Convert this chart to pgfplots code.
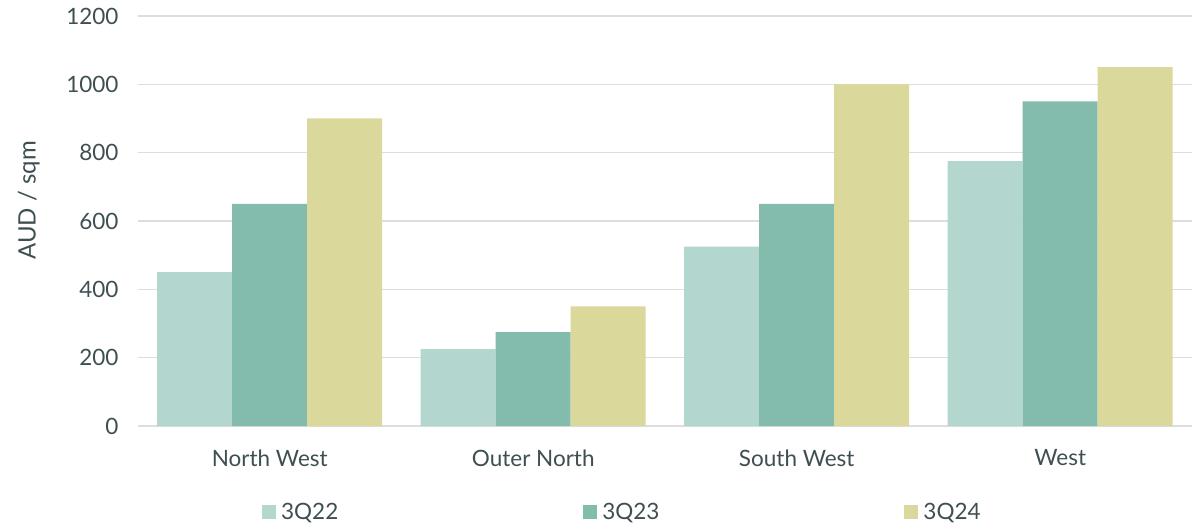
\documentclass[border=0pt]{standalone}
\usepackage{fontspec}
\setmainfont{Lato}
\usepackage{pgfplots}
\pgfplotsset{compat=1.18}
\definecolor{cA}{HTML}{B3D6CF}
\definecolor{cB}{HTML}{83BBAD}
\definecolor{cC}{HTML}{DBD89B}
\definecolor{txt}{HTML}{3F4F51}
\definecolor{grd}{HTML}{DDDDDD}
\begin{document}
\begin{tikzpicture}
\useasboundingbox (-138pt,-99pt) rectangle (1064pt,426pt);
\begin{axis}[
  at={(0,0)}, anchor=south west,
  scale only axis, width=1054pt, height=410pt,
  xmin=-0.5, xmax=3.5, ymin=0, ymax=1200,
  ybar=0pt, bar width=75pt,
  axis line style={draw=none},
  major tick length=0pt,
  ymajorgrids, grid style={grd, line width=1.2pt},
  ytick={0,200,...,1200},
  xtick={0,1,2,3},
  xticklabels={North West, Outer North, South West, West},
  /pgf/number format/1000 sep={},
  /pgf/number format/assume math mode=true,
  tick label style={font=\fontsize{22.5}{26}\selectfont, text=txt},
  yticklabel style={xshift=-16pt},
  xticklabel style={yshift=-20pt},
  ylabel={AUD / sqm},
  ylabel style={at={(axis description cs:-0.1035,0.55)}, anchor=center, font=\fontsize{24}{28}\selectfont, text=txt},
  legend columns=3,
  legend style={at={(axis description cs:0.1176,-0.21)}, anchor=west, draw=none, fill=none,
    inner sep=0pt, nodes={inner sep=0pt, font=\fontsize{22.5}{26}\selectfont, text=txt},
    /tikz/every odd column/.append style={column sep=5pt},
    /tikz/every even column/.append style={column sep=245pt}},
  legend image code/.code={\fill[#1] (0pt,-7pt) rectangle (14pt,7pt);},
]
\addplot[fill=cA, draw=none] coordinates {(0,450) (1,225) (2,525) (3,775)};
\addplot[fill=cB, draw=none] coordinates {(0,650) (1,275) (2,650) (3,950)};
\addplot[fill=cC, draw=none] coordinates {(0,900) (1,350) (2,1000) (3,1050)};
\legend{3Q22,3Q23,3Q24}
\end{axis}
\end{tikzpicture}
\end{document}
